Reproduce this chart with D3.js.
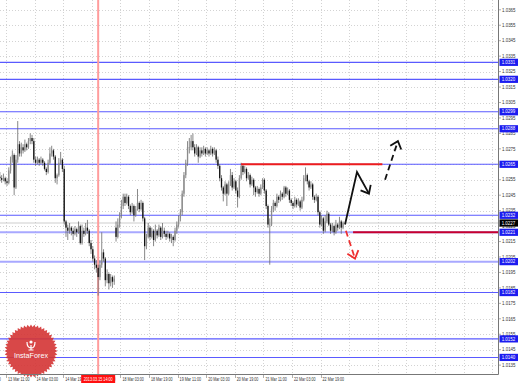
<!DOCTYPE html>
<html>
<head>
<meta charset="utf-8">
<script src="https://cdn.jsdelivr.net/npm/d3@7"></script>
<style>
  html, body { margin: 0; padding: 0; background: #fff; }
  svg { display: block; font-family: "Liberation Sans", Arial, sans-serif; }
</style>
</head>
<body>
<svg id="chart" width="518" height="383"></svg>
<script>
// H1 bars, 12 Mar 2013 ~23:00 .. 25 Mar 2013 ~08:00 (bar index = position on the time axis)
const opens = [
  1.0257,1.0256,1.0255,1.0256,1.0254,1.0253,1.0261,1.0268,1.0271,1.0250,
  1.0268,1.0278,1.0272,1.0276,1.0274,1.0278,1.0276,1.0280,1.0282,1.0280,
  1.0268,1.0266,1.0268,1.0266,1.0268,1.0266,1.0262,1.0260,1.0266,1.0272,
  1.0274,1.0270,1.0256,1.0258,1.0266,1.0268,1.0262,1.0228,1.0224,1.0222,
  1.0224,1.0222,1.0220,1.0223,1.0221,1.0225,1.0214,1.0222,1.0220,1.0224,
  1.0222,1.0214,1.0210,1.0204,1.0200,1.0198,1.0192,1.0200,1.0208,1.0204,
  1.0190,1.0194,1.0188,1.0192,1.0189,1.0224,1.0218,1.0226,1.0232,1.0238,
  1.0244,1.0240,1.0244,1.0238,1.0234,1.0238,1.0232,1.0236,1.0240,1.0236,
  1.0240,1.0230,1.0212,1.0218,1.0224,1.0218,1.0222,1.0216,1.0222,1.0219,
  1.0224,1.0218,1.0222,1.0220,1.0218,1.0220,1.0217,1.0218,1.0216,1.0222,
  1.0226,1.0230,1.0234,1.0246,1.0258,1.0266,1.0276,1.0276,1.0280,1.0276,
  1.0272,1.0276,1.0270,1.0274,1.0272,1.0275,1.0272,1.0274,1.0272,1.0275,
  1.0272,1.0274,1.0268,1.0264,1.0256,1.0250,1.0246,1.0252,1.0246,1.0252,
  1.0258,1.0250,1.0254,1.0248,1.0244,1.0256,1.0264,1.0260,1.0262,1.0256,
  1.0258,1.0252,1.0255,1.0250,1.0247,1.0249,1.0246,1.0250,1.0255,1.0248,
  1.0238,1.0226,1.0226,1.0236,1.0240,1.0238,1.0244,1.0242,1.0246,1.0244,
  1.0250,1.0246,1.0248,1.0242,1.0240,1.0238,1.0242,1.0239,1.0241,1.0237,
  1.0242,1.0256,1.0258,1.0254,1.0250,1.0252,1.0244,1.0242,1.0244,1.0234,
  1.0226,1.0230,1.0222,1.0228,1.0233,1.0226,1.0222,1.0225,1.0221,1.0226,
  1.0224,1.0228,1.0224
];
const highs = [
  1.0260,1.0258,1.0259,1.0257,1.0256,1.0263,1.0270,1.0274,1.0272,1.0271,
  1.0293,1.0280,1.0279,1.0278,1.0281,1.0279,1.0282,1.0285,1.0284,1.0282,
  1.0270,1.0270,1.0269,1.0270,1.0269,1.0267,1.0263,1.0268,1.0276,1.0277,
  1.0275,1.0271,1.0259,1.0269,1.0273,1.0269,1.0264,1.0229,1.0226,1.0227,
  1.0225,1.0224,1.0225,1.0224,1.0228,1.0226,1.0226,1.0224,1.0227,1.0229,
  1.0223,1.0216,1.0212,1.0206,1.0203,1.0200,1.0203,1.0221,1.0210,1.0205,
  1.0197,1.0195,1.0194,1.0193,1.0193,1.0228,1.0230,1.0234,1.0242,1.0246,
  1.0246,1.0246,1.0245,1.0239,1.0240,1.0239,1.0238,1.0249,1.0241,1.0242,
  1.0241,1.0231,1.0220,1.0227,1.0225,1.0224,1.0223,1.0226,1.0223,1.0226,
  1.0225,1.0227,1.0224,1.0222,1.0222,1.0221,1.0220,1.0219,1.0224,1.0228,
  1.0232,1.0236,1.0248,1.0260,1.0268,1.0280,1.0282,1.0284,1.0285,1.0278,
  1.0278,1.0277,1.0276,1.0276,1.0277,1.0276,1.0276,1.0275,1.0277,1.0276,
  1.0276,1.0275,1.0270,1.0265,1.0258,1.0251,1.0254,1.0253,1.0254,1.0262,
  1.0260,1.0256,1.0255,1.0250,1.0258,1.0266,1.0265,1.0264,1.0263,1.0260,
  1.0259,1.0257,1.0256,1.0251,1.0251,1.0250,1.0252,1.0256,1.0256,1.0249,
  1.0239,1.0230,1.0238,1.0242,1.0241,1.0246,1.0245,1.0248,1.0247,1.0251,
  1.0251,1.0250,1.0249,1.0243,1.0241,1.0244,1.0243,1.0243,1.0242,1.0244,
  1.0258,1.0263,1.0259,1.0255,1.0254,1.0253,1.0245,1.0246,1.0245,1.0235,
  1.0232,1.0231,1.0232,1.0235,1.0234,1.0227,1.0227,1.0226,1.0229,1.0227,
  1.0231,1.0229,1.0228
];
const lows = [
  1.0254,1.0253,1.0254,1.0252,1.0251,1.0252,1.0259,1.0266,1.0245,1.0249,
  1.0266,1.0270,1.0270,1.0272,1.0273,1.0274,1.0275,1.0278,1.0278,1.0266,
  1.0264,1.0265,1.0264,1.0265,1.0264,1.0261,1.0258,1.0259,1.0265,1.0270,
  1.0268,1.0253,1.0252,1.0257,1.0265,1.0260,1.0226,1.0218,1.0216,1.0220,
  1.0219,1.0216,1.0219,1.0218,1.0220,1.0213,1.0213,1.0218,1.0219,1.0220,
  1.0212,1.0207,1.0202,1.0197,1.0195,1.0180,1.0190,1.0198,1.0202,1.0186,
  1.0188,1.0184,1.0186,1.0185,1.0187,1.0215,1.0217,1.0224,1.0230,1.0236,
  1.0238,1.0239,1.0236,1.0232,1.0233,1.0228,1.0231,1.0235,1.0234,1.0235,
  1.0228,1.0203,1.0210,1.0217,1.0216,1.0217,1.0212,1.0215,1.0217,1.0218,
  1.0216,1.0217,1.0218,1.0216,1.0217,1.0215,1.0214,1.0212,1.0215,1.0220,
  1.0224,1.0228,1.0232,1.0244,1.0256,1.0264,1.0272,1.0274,1.0274,1.0270,
  1.0271,1.0266,1.0269,1.0270,1.0271,1.0270,1.0271,1.0270,1.0271,1.0270,
  1.0271,1.0266,1.0262,1.0254,1.0248,1.0241,1.0245,1.0238,1.0245,1.0251,
  1.0248,1.0249,1.0246,1.0237,1.0243,1.0255,1.0258,1.0259,1.0254,1.0255,
  1.0250,1.0251,1.0245,1.0244,1.0246,1.0244,1.0245,1.0249,1.0246,1.0236,
  1.0224,1.0200,1.0225,1.0234,1.0235,1.0237,1.0240,1.0241,1.0242,1.0243,
  1.0244,1.0245,1.0240,1.0238,1.0236,1.0237,1.0237,1.0238,1.0235,1.0236,
  1.0241,1.0254,1.0252,1.0248,1.0249,1.0242,1.0240,1.0241,1.0232,1.0224,
  1.0225,1.0220,1.0221,1.0227,1.0225,1.0220,1.0221,1.0219,1.0220,1.0222,
  1.0223,1.0220,1.0223
];
const closes = [
  1.0256,1.0255,1.0256,1.0254,1.0253,1.0261,1.0268,1.0271,1.0250,1.0268,
  1.0278,1.0272,1.0276,1.0274,1.0278,1.0276,1.0280,1.0282,1.0280,1.0268,
  1.0266,1.0268,1.0266,1.0268,1.0266,1.0262,1.0260,1.0266,1.0272,1.0274,
  1.0270,1.0256,1.0258,1.0266,1.0268,1.0262,1.0228,1.0224,1.0222,1.0224,
  1.0222,1.0220,1.0223,1.0221,1.0225,1.0214,1.0222,1.0220,1.0224,1.0222,
  1.0214,1.0210,1.0204,1.0200,1.0198,1.0192,1.0200,1.0208,1.0204,1.0190,
  1.0194,1.0188,1.0192,1.0189,1.0191,1.0218,1.0226,1.0232,1.0238,1.0244,
  1.0240,1.0244,1.0238,1.0234,1.0238,1.0232,1.0236,1.0240,1.0236,1.0240,
  1.0230,1.0212,1.0218,1.0224,1.0218,1.0222,1.0216,1.0222,1.0219,1.0224,
  1.0218,1.0222,1.0220,1.0218,1.0220,1.0217,1.0218,1.0216,1.0222,1.0226,
  1.0230,1.0234,1.0246,1.0258,1.0266,1.0276,1.0276,1.0280,1.0276,1.0272,
  1.0276,1.0270,1.0274,1.0272,1.0275,1.0272,1.0274,1.0272,1.0275,1.0272,
  1.0274,1.0268,1.0264,1.0256,1.0250,1.0246,1.0252,1.0246,1.0252,1.0258,
  1.0250,1.0254,1.0248,1.0244,1.0256,1.0264,1.0260,1.0262,1.0256,1.0258,
  1.0252,1.0255,1.0250,1.0247,1.0249,1.0246,1.0250,1.0255,1.0248,1.0238,
  1.0226,1.0226,1.0236,1.0240,1.0238,1.0244,1.0242,1.0246,1.0244,1.0250,
  1.0246,1.0248,1.0242,1.0240,1.0238,1.0242,1.0239,1.0241,1.0237,1.0242,
  1.0256,1.0258,1.0254,1.0250,1.0252,1.0244,1.0242,1.0244,1.0234,1.0226,
  1.0230,1.0222,1.0228,1.0233,1.0226,1.0222,1.0225,1.0221,1.0226,1.0224,
  1.0228,1.0224,1.0227
];

// time axis labels and the bar index each one sits on
const timeLabels   = ["12 Mar 19:00","13 Mar 11:00","14 Mar 03:00","14 Mar 19:00","15 Mar 11:00",
                      "18 Mar 03:00","18 Mar 19:00","19 Mar 11:00","20 Mar 03:00","20 Mar 19:00",
                      "21 Mar 11:00","22 Mar 03:00","22 Mar 19:00"];
const timeLabelBar = [-12, 4, 20, 36, 52, 68, 84, 100, 116, 132, 148, 164, 180];

// price axis
const priceTicks = [1.0135,1.0145,1.0155,1.0165,1.0175,1.0185,1.0195,1.0205,1.0215,1.0225,1.0235,1.0245,
                    1.0255,1.0265,1.0275,1.0285,1.0295,1.0305,1.0315,1.0325,1.0335,1.0345,1.0355,1.0365];

// horizontal levels (blue) with their tags
const levelPrices = [1.0331, 1.0320, 1.0299, 1.0288, 1.0265, 1.0232, 1.0221, 1.0202, 1.0182, 1.0152, 1.0140];
const levelTags   = ["1.0331","1.0320","1.0299","1.0288","1.0265","1.0232","1.0221","1.0202","1.0182","1.0152","1.0140"];
const wideLevels  = [1.0221, 1.0202];
const bidPrice    = 1.0227;

// marked bar (red vertical)
const markedBar  = 55;
const markedTime = "2013.03.15 14:00";

// drawn objects: [bar index, price]
const resistanceLine = [[135, 1.0265], [214, 1.0265]];
const supportLine    = [[197.6, 1.0221], [280, 1.0221]];
const mainPath       = [[193.1, 1.0226], [199.8, 1.0260], [206.5, 1.0246]];
const breakoutPath   = [[215.5, 1.0255], [222.7, 1.0280]];
const fallPath       = [[193.6, 1.0222], [198.7, 1.0204]];

////////////////////
//     Layout     //
////////////////////
const W = 518, H = 383,
  plotRight  = 498,
  plotBottom = 374,
  barStep    = 1.7875,
  svg        = d3.select("#chart");

const x = d3.scaleLinear().domain([0, 1]).range([-0.15, -0.15 + barStep]),
      y = d3.scaleLinear().domain([1.0135, 1.0365]).range([365.15, 9.8]);

svg.append("defs").append("clipPath").attr("id", "plot")
  .append("rect").attr("x", 0).attr("y", 0).attr("width", plotRight).attr("height", plotBottom);

const plot = svg.append("g").attr("clip-path", "url(#plot)");

// grid
plot.selectAll("line.hgrid").data(priceTicks).join("line")
  .attr("class", "hgrid")
  .attr("x1", 0).attr("x2", plotRight)
  .attr("y1", d => Math.round(y(d)) + 0.5).attr("y2", d => Math.round(y(d)) + 0.5)
  .attr("stroke", "#c8c8c8").attr("stroke-width", 0.8).attr("stroke-dasharray", "1,2");

const gridBars = d3.range(-12, 290, 16);
plot.selectAll("line.vgrid").data(gridBars).join("line")
  .attr("class", "vgrid")
  .attr("x1", d => Math.round(x(d)) - 0.5).attr("x2", d => Math.round(x(d)) - 0.5)
  .attr("y1", 0).attr("y2", plotBottom)
  .attr("stroke", "#c8c8c8").attr("stroke-width", 0.8).attr("stroke-dasharray", "1,2");

// level lines
plot.selectAll("line.level").data(levelPrices).join("line")
  .attr("class", "level")
  .attr("x1", 0).attr("x2", plotRight)
  .attr("y1", d => y(d)).attr("y2", d => y(d))
  .attr("stroke", d => wideLevels.includes(d) ? "#a8a8ff" : "#5a5aff")
  .attr("stroke-width", d => wideLevels.includes(d) ? 2 : 1.1);

// bid line
plot.append("line")
  .attr("x1", 0).attr("x2", plotRight)
  .attr("y1", y(bidPrice)).attr("y2", y(bidPrice))
  .attr("stroke", "#c0c0c0").attr("stroke-width", 0.8);

// red vertical marker
plot.append("line")
  .attr("x1", x(markedBar)).attr("x2", x(markedBar))
  .attr("y1", 0).attr("y2", plotBottom)
  .attr("stroke", "#ff9c9c").attr("stroke-width", 2);

// candles
const bars = closes.map((c, i) => ({i: i, o: opens[i], h: highs[i], l: lows[i], c: c}));

plot.selectAll("line.wick").data(bars).join("line")
  .attr("class", "wick")
  .attr("x1", d => x(d.i)).attr("x2", d => x(d.i))
  .attr("y1", d => y(d.h)).attr("y2", d => y(d.l))
  .attr("stroke", "#6a6a6a").attr("stroke-width", 0.8);

plot.selectAll("rect.body").data(bars).join("rect")
  .attr("class", "body")
  .attr("x", d => x(d.i) - 0.65)
  .attr("width", 1.3)
  .attr("y", d => y(Math.max(d.o, d.c)))
  .attr("height", d => Math.max(0.8, Math.abs(y(d.o) - y(d.c))))
  .attr("fill", d => d.c < d.o ? "#111" : "#8c8c8c");

// red horizontal drawings
const toXY = p => [x(p[0]), y(p[1])];
plot.append("path")
  .attr("d", d3.line()(resistanceLine.map(toXY)))
  .attr("stroke", "#ee1c1c").attr("stroke-width", 2).attr("fill", "none");
plot.append("path")
  .attr("d", d3.line()(supportLine.map(toXY)))
  .attr("stroke", "#c8002e").attr("stroke-width", 2).attr("fill", "none");

// arrows
function arrow(points, color, dash) {
  let pts = points.map(toXY),
      tip = pts[pts.length - 1],
      prev = pts[pts.length - 2],
      dx = prev[0] - tip[0], dy = prev[1] - tip[1],
      len = Math.hypot(dx, dy), ux = dx / len, uy = dy / len,
      a = 40 * Math.PI / 180, head = 9;
  let b1 = [tip[0] + head * (ux * Math.cos(a) - uy * Math.sin(a)), tip[1] + head * (ux * Math.sin(a) + uy * Math.cos(a))],
      b2 = [tip[0] + head * (ux * Math.cos(a) + uy * Math.sin(a)), tip[1] + head * (-ux * Math.sin(a) + uy * Math.cos(a))];

  plot.append("path")
    .attr("d", d3.line()(pts))
    .attr("stroke", color).attr("stroke-width", 1.8).attr("fill", "none")
    .attr("stroke-dasharray", dash ? "6,4" : null);
  plot.append("path")
    .attr("d", d3.line()([b1, tip, b2]))
    .attr("stroke", color).attr("stroke-width", 1.8).attr("fill", "none");
}
arrow(mainPath, "#111", false);
arrow(breakoutPath, "#111", true);
arrow(fallPath, "#ee3030", true);

// logo
const logo = svg.append("g").attr("transform", "translate(31,351)");
const star = d3.range(96).map(k => {
  let ang = k * Math.PI / 48, r = k % 2 ? 24 : 26.5;
  return [r * Math.cos(ang), r * Math.sin(ang)];
});
logo.append("path").attr("d", d3.line()(star) + "Z").attr("fill", "#d43434").attr("opacity", 0.9);
logo.append("circle").attr("cx", 0).attr("cy", -9).attr("r", 1.6).attr("fill", "#fff");
logo.append("path").attr("d", "M-4,-9 Q-4,-3 0,-3 Q4,-3 4,-9 M0,-6 L0,-1 M-2.5,-1 L2.5,-1")
  .attr("stroke", "#fff").attr("stroke-width", 1.2).attr("fill", "none");
logo.append("text").attr("x", 0).attr("y", 7).attr("text-anchor", "middle")
  .attr("font-size", 7.2).attr("fill", "#fff").text("InstaForex");

// frame
svg.append("line").attr("x1", plotRight + 0.5).attr("x2", plotRight + 0.5).attr("y1", 0).attr("y2", plotBottom + 0.5)
  .attr("stroke", "#777").attr("stroke-width", 1);
svg.append("line").attr("x1", 0).attr("x2", plotRight + 0.5).attr("y1", plotBottom + 0.5).attr("y2", plotBottom + 0.5)
  .attr("stroke", "#777").attr("stroke-width", 1);

// price axis
svg.selectAll("line.ptick").data(priceTicks).join("line")
  .attr("class", "ptick")
  .attr("x1", plotRight + 1).attr("x2", plotRight + 3)
  .attr("y1", d => y(d)).attr("y2", d => y(d))
  .attr("stroke", "#777").attr("stroke-width", 0.6);
svg.selectAll("text.ptxt").data(priceTicks).join("text")
  .attr("class", "ptxt")
  .attr("x", plotRight + 4).attr("y", d => y(d) + 1.7)
  .attr("font-size", 4.8).attr("fill", "#333")
  .attr("textLength", 13.5).attr("lengthAdjust", "spacingAndGlyphs")
  .text(d => d.toFixed(4));

const tags = svg.selectAll("g.tag").data(levelPrices.map((p, i) => ({p: p, t: levelTags[i], bg: "#1c1cf0"}))
  .concat([{p: bidPrice, t: bidPrice.toFixed(4), bg: "#000"}]))
  .join("g").attr("class", "tag")
  .attr("transform", d => "translate(" + (plotRight + 1.5) + "," + y(d.p) + ")");
tags.append("rect").attr("x", 0).attr("y", -3.6).attr("width", 18.5).attr("height", 7.2).attr("fill", d => d.bg);
tags.append("text").attr("x", 2.2).attr("y", 1.7)
  .attr("font-size", 4.8).attr("fill", "#fff")
  .attr("textLength", 13.5).attr("lengthAdjust", "spacingAndGlyphs")
  .text(d => d.t);

// time axis
svg.selectAll("line.ttick").data(timeLabelBar).join("line")
  .attr("class", "ttick")
  .attr("x1", d => Math.round(x(d)) - 0.5).attr("x2", d => Math.round(x(d)) - 0.5)
  .attr("y1", plotBottom + 1).attr("y2", plotBottom + 4)
  .attr("stroke", "#777").attr("stroke-width", 0.6);
svg.selectAll("text.ttxt").data(timeLabels).join("text")
  .attr("class", "ttxt")
  .attr("x", (d, i) => x(timeLabelBar[i]) + 1).attr("y", 380.5)
  .attr("font-size", 4.6).attr("fill", "#333")
  .attr("textLength", 21.5).attr("lengthAdjust", "spacingAndGlyphs")
  .text(d => d);

const mark = svg.append("g").attr("transform", "translate(" + x(markedBar) + ",0)");
mark.append("rect").attr("x", -17).attr("y", plotBottom + 1).attr("width", 34).attr("height", 8).attr("fill", "#ff1010");
mark.append("text").attr("x", 0).attr("y", 380.5).attr("text-anchor", "middle")
  .attr("font-size", 4.6).attr("fill", "#fff")
  .attr("textLength", 29).attr("lengthAdjust", "spacingAndGlyphs")
  .text(markedTime);
</script>
</body>
</html>
